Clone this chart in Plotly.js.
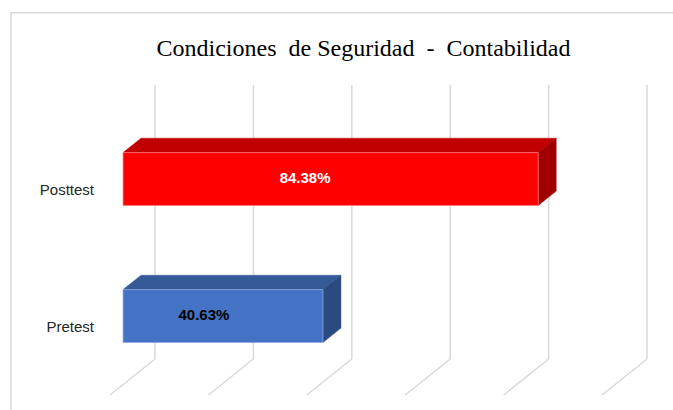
<!DOCTYPE html>
<html><head><meta charset="utf-8">
<script src="https://cdn.plot.ly/plotly-3.0.1.min.js"></script>
<style>html,body{margin:0;padding:0;background:#fff;}#chart{width:673px;height:410px;}</style>
</head><body><div id="chart"></div>
<script>
// ---- data ----
const categories = ['Pretest', 'Posttest'];
const values = [40.63, 84.38];
const valueLabels = ['40.63%', '84.38%'];
const gridTicks = [0, 20, 40, 60, 80, 100];
const chartTitle = 'Condiciones\u00a0 de Seguridad\u00a0 -\u00a0 Contabilidad';

// ---- style ----
const frontColors = ['#4472C4', '#FF0000'];
const topColors = ['#335A97', '#C00000'];
const sideColors = ['#2A4A80', '#A00000'];
const edgeColors = ['#8FAADC', '#FF7C80'];
const labelColors = ['#000000', '#FFFFFF'];

// 3D projection (in axis units)
const DEPTH_X = 9.146;   // x shift for full floor depth
const DEPTH_Y = 0.2628;  // y shift for full floor depth
const D_FRONT = 0.29, D_BACK = 0.69;
const HALF = 0.193;
const FLOOR = -0.5, CEIL = 1.5;
const LABEL_POS = 0.47;

const traces = [];

// gridlines: back wall verticals + floor diagonals
const gx = [], gy = [];
gridTicks.forEach(g => {
  gx.push(g + DEPTH_X, g + DEPTH_X, null);
  gy.push(FLOOR + DEPTH_Y, CEIL + DEPTH_Y, null);
  gx.push(g, g + DEPTH_X, null);
  gy.push(FLOOR, FLOOR + DEPTH_Y, null);
});
traces.push({x: gx, y: gy, mode: 'lines', type: 'scatter',
  line: {color: '#D9D9D9', width: 1.5}, hoverinfo: 'skip'});

const fxo = D_FRONT * DEPTH_X, fyo = D_FRONT * DEPTH_Y;
const bxo = D_BACK * DEPTH_X, byo = D_BACK * DEPTH_Y;

categories.forEach((c, i) => {
  const v = values[i];
  // top face
  traces.push({type: 'scatter', mode: 'lines', fill: 'toself',
    x: [fxo, v + fxo, v + bxo, bxo, fxo],
    y: [i + HALF + fyo, i + HALF + fyo, i + HALF + byo, i + HALF + byo, i + HALF + fyo],
    fillcolor: topColors[i], line: {width: 0.5, color: topColors[i]}, hoverinfo: 'skip'});
  // side face
  traces.push({type: 'scatter', mode: 'lines', fill: 'toself',
    x: [v + fxo, v + bxo, v + bxo, v + fxo, v + fxo],
    y: [i - HALF + fyo, i - HALF + byo, i + HALF + byo, i + HALF + fyo, i - HALF + fyo],
    fillcolor: sideColors[i], line: {width: 0.5, color: sideColors[i]}, hoverinfo: 'skip'});
  // front face
  traces.push({type: 'scatter', mode: 'lines', fill: 'toself',
    x: [fxo, v + fxo, v + fxo, fxo, fxo],
    y: [i - HALF + fyo, i - HALF + fyo, i + HALF + fyo, i + HALF + fyo, i - HALF + fyo],
    fillcolor: frontColors[i], line: {width: 0.75, color: edgeColors[i]}, hoverinfo: 'skip'});
});

// value labels
traces.push({type: 'scatter', mode: 'text',
  x: values.map(v => v * LABEL_POS),
  y: categories.map((c, i) => i + fyo),
  text: valueLabels, textposition: 'middle center',
  textfont: {family: '"Liberation Sans", Arial, sans-serif', size: 15, color: labelColors, weight: 'bold'},
  hoverinfo: 'skip'});

const layout = {
  width: 673, height: 410,
  margin: {l: 100, r: 0, t: 0, b: 0, pad: 0},
  paper_bgcolor: '#FFFFFF', plot_bgcolor: 'rgba(0,0,0,0)',
  showlegend: false, hovermode: false,
  title: {text: chartTitle, x: 363.5 / 673, xanchor: 'center', xref: 'container',
    y: 1 - 48 / 410, yanchor: 'middle', yref: 'container',
    font: {family: '"Liberation Serif", "Times New Roman", serif', size: 24, color: '#000000'}},
  xaxis: {range: [-10 / 4.92, 563 / 4.92], visible: false, fixedrange: true},
  yaxis: {range: [-15 / 137 - 0.5, 395 / 137 - 0.5], fixedrange: true,
    showgrid: false, zeroline: false, showline: false, ticks: '',
    tickvals: categories.map((c, i) => i), ticktext: categories,
    ticklabelstandoff: 5,
    tickfont: {family: '"Liberation Sans", Arial, sans-serif', size: 15, color: '#262626'}},
  shapes: [{type: 'rect', xref: 'paper', yref: 'paper',
    x0: (11 - 100) / 573, x1: 1.02, y0: -0.05, y1: 1 - 12.7 / 410,
    line: {color: '#D9D9D9', width: 1.5}, fillcolor: 'rgba(0,0,0,0)', layer: 'below'}]
};

Plotly.newPlot('chart', traces, layout, {displayModeBar: false, staticPlot: true});
</script>
</body></html>
